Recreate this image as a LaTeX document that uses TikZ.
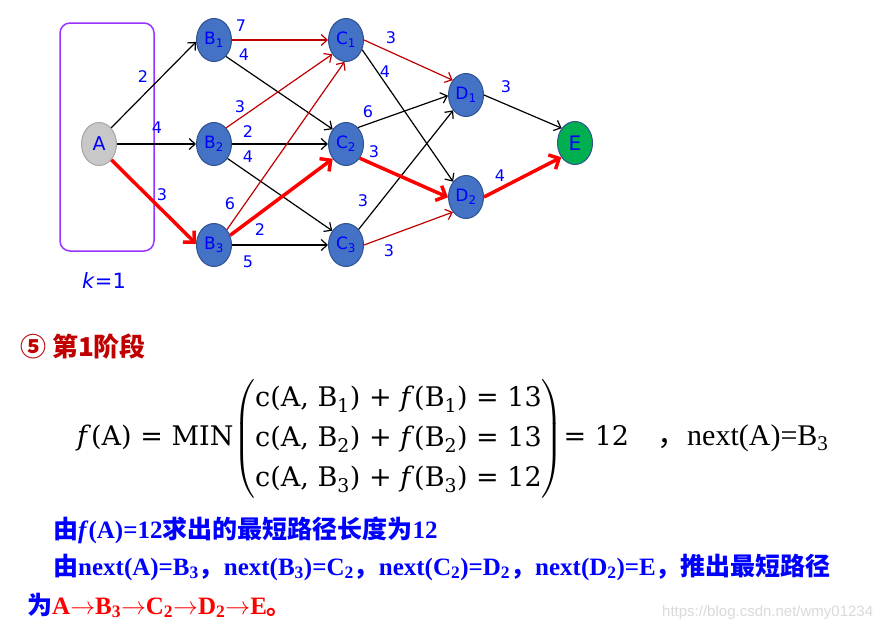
\documentclass[tikz,border=0pt]{standalone}
\usepackage{amsmath}
\usepackage[no-math]{fontspec}
\setmainfont{Liberation Serif}
\newfontfamily\gf{DejaVu Sans}
\newfontfamily\mf{DejaVu Serif}
\newfontfamily\cjk{Noto Sans CJK SC}
\newfontfamily\wm{Liberation Sans}
\usetikzlibrary{shapes.geometric,arrows.meta}
\definecolor{nodefill}{HTML}{4472C4}
\definecolor{nodeedge}{HTML}{2F528F}
\definecolor{txtblue}{HTML}{0000FF}
\definecolor{dred}{HTML}{C00000}
\definecolor{bred}{HTML}{FF0000}
\definecolor{violet1}{HTML}{9933FF}
\definecolor{agray}{HTML}{C8C8C8}
\definecolor{agrayedge}{HTML}{A6A6A6}
\definecolor{egreen}{HTML}{00B050}
\definecolor{wmgray}{HTML}{D9D9D9}
\newcommand{\rw}[2]{c(A, B\textsubscript{#1}) + \textit{f}(B\textsubscript{#1}) = #2}
\newcommand{\ar}{$\rightarrow$}
\tikzset{
 vtx/.style={ellipse, draw=nodeedge, line width=1pt, fill=nodefill, minimum width=35pt, minimum height=43pt, inner sep=0pt, text=txtblue, font=\gf\fontsize{17}{17}\selectfont},
 lbl/.style={text=txtblue, font=\gf\fontsize{16}{16}\selectfont, inner sep=0pt},
 blk/.style={draw=black, line width=1.2pt, -{Straight Barb[length=6pt,width=11pt]}},
 drd/.style={draw=dred, line width=1.2pt, -{Straight Barb[length=6pt,width=11pt]}},
 thk/.style={draw=bred, line width=3.5pt, -{Straight Barb[length=8pt,width=16pt]}},
 txt/.style={anchor=base west, inner sep=0pt},
}
\begin{document}
\begin{tikzpicture}[x=1pt,y=-1pt]
\useasboundingbox (0,0) rectangle (891,629);
% stage box
\draw[violet1, line width=1.5pt, rounded corners=10pt] (60,23) rectangle (154,251);
\node[text=txtblue, font=\gf\fontsize{21}{21}\selectfont, inner sep=0pt] (k) at (104,281) {\textit{k}=1};
% vertices
\node[vtx, fill=agray, draw=agrayedge, font=\gf\fontsize{19}{19}\selectfont] (A) at (99,144) {A};
\node[vtx] (B1) at (214,40) {B\textsubscript{1}};
\node[vtx] (B2) at (214,144) {B\textsubscript{2}};
\node[vtx] (B3) at (214,245) {B\textsubscript{3}};
\node[vtx] (C1) at (346,40) {C\textsubscript{1}};
\node[vtx] (C2) at (346,144) {C\textsubscript{2}};
\node[vtx] (C3) at (346,245) {C\textsubscript{3}};
\node[vtx] (D1) at (466,95) {D\textsubscript{1}};
\node[vtx] (D2) at (466,197) {D\textsubscript{2}};
\node[vtx, fill=egreen, font=\gf\fontsize{20}{20}\selectfont] (E) at (575,143) {E};
% edges
\draw[blk] (A.53) -- (B1.186);
\draw[blk] (A.east) -- (B2.west);
\draw[blk] (B1.-54) -- (C2.132);
\draw[blk] (B2.east) -- (C2.west);
\draw[blk] (B2.-47) -- (C3.134);
\draw[blk] (B3.east) -- (C3.west);
\draw[blk] (C1.-31) -- (D2.130);
\draw[blk] (C2.54) -- (D1.182);
\draw[blk] (C3.51) -- (D1.230);
\draw[blk] (D1.east) -- (E.132);
\draw[drd] (B1.east) -- (C1.west);
\draw[drd] (B2.53) -- (C1.226);
\draw[drd] (B3.50) -- (C1.266);
\draw[drd] (C1.east) -- (D1.132);
\draw[drd] (C3.east) -- (D2.229);
\draw[thk] (A.-52) -- (B3.176);
\draw[thk] (B3.31) -- (C2.228);
\draw[thk] (C2.-46) -- (D2.181);
\draw[thk] (D2.east) -- (E.226);
% edge labels
\node[lbl] (l1) at (143,77) {2};
\node[lbl] (l2) at (157,128) {4};
\node[lbl] (l3) at (162,195) {3};
\node[lbl] (l4) at (241,26) {7};
\node[lbl] (l5) at (244,55) {4};
\node[lbl] (l6) at (240,107) {3};
\node[lbl] (l7) at (248,132) {2};
\node[lbl] (l8) at (248,157) {4};
\node[lbl] (l9) at (230,204) {6};
\node[lbl] (l10) at (260,230) {2};
\node[lbl] (l11) at (248,262) {5};
\node[lbl] (l12) at (391,38) {3};
\node[lbl] (l13) at (385,72) {4};
\node[lbl] (l14) at (368,112) {6};
\node[lbl] (l15) at (374,152) {3};
\node[lbl] (l16) at (363,201) {3};
\node[lbl] (l17) at (389,251) {3};
\node[lbl] (l18) at (506,87) {3};
\node[lbl] (l19) at (500,176) {4};
% title
\node[txt, text=dred, font=\cjk\bfseries\fontsize{26}{26}\selectfont] (title) at (20,356) {⑤ 第1阶段};
% formula
\node[txt, font=\mf\fontsize{27}{40}\selectfont] (fml) at (77,445) {\textit{f}(A) = MIN$\left(\vcenter{\hbox{\begin{tabular}{@{}l@{}}\rw{1}{13}\\ \rw{2}{13}\\ \rw{3}{12}\end{tabular}}}\right)$= 12};
\node[txt, font=\fontsize{30}{30}\selectfont] (nxt) at (657,445) {{\cjk ，}next(A)=B\textsubscript{3}};
% conclusions
\node[txt, text=txtblue, font=\fontsize{25}{25}\selectfont\bfseries] (t1) at (53,538) {{\cjk 由}\textit{f}(A)=12{\cjk 求出的最短路径长度为}12};
\node[txt, text=txtblue, font=\fontsize{25}{25}\selectfont\bfseries] (t2) at (53,575) {{\cjk 由}next(A)=B\textsubscript{3}{\cjk ，}next(B\textsubscript{3})=C\textsubscript{2}{\cjk ，}next(C\textsubscript{2})=D\textsubscript{2}{\cjk ，}next(D\textsubscript{2})=E{\cjk ，推出最短路径}};
\node[txt, text=txtblue, font=\fontsize{25}{25}\selectfont\bfseries] (t3) at (27,614) {{\cjk 为}\textcolor{bred}{A\ar B\textsubscript{3}\ar C\textsubscript{2}\ar D\textsubscript{2}\ar E{\cjk 。}}};
\node[txt, text=wmgray, font=\wm\fontsize{15}{15}\selectfont] (wm) at (662,616) {https://blog.csdn.net/wmy01234};
\end{tikzpicture}
\end{document}
